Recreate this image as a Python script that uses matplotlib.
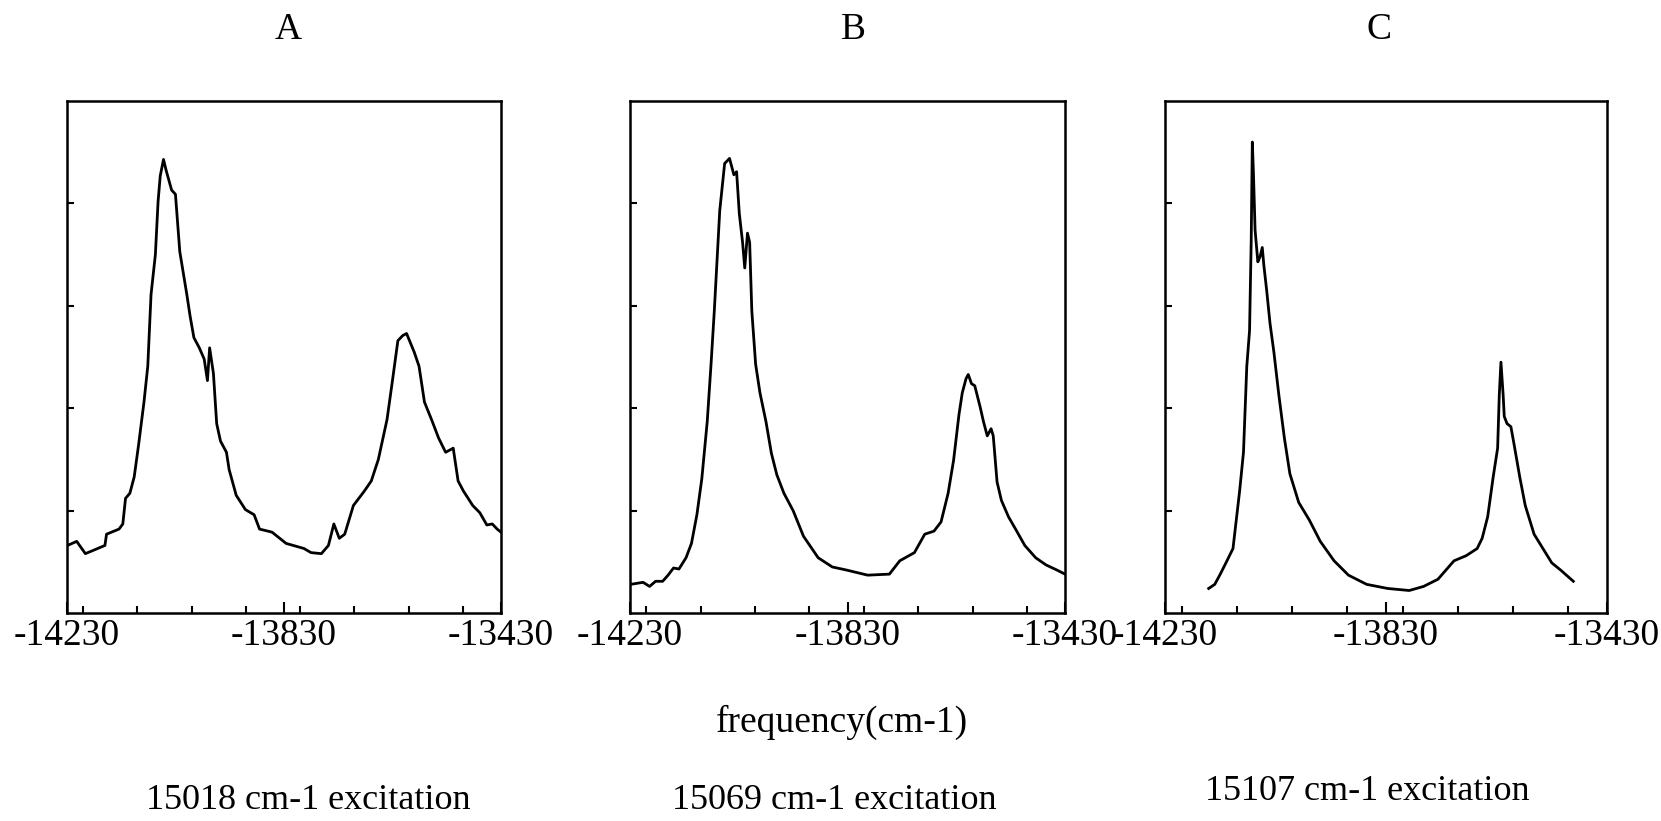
import matplotlib.pyplot as plt
from matplotlib.ticker import MultipleLocator

plt.rcParams['font.family'] = ['Liberation Serif', 'DejaVu Serif']

# spectrum A: 15018 cm-1 excitation
freq_a = [-14229, -14212, -14196, -14160, -14157, -14134, -14127, -14122, -14114, -14106,
          -14098, -14088, -14081, -14075, -14067, -14062, -14058, -14052, -14047, -14037,
          -14030, -14022, -14009, -14003, -13996, -13986, -13977, -13971, -13967, -13960,
          -13954, -13947, -13936, -13931, -13918, -13901, -13885, -13875, -13852, -13826,
          -13793, -13780, -13761, -13748, -13738, -13728, -13718, -13702, -13682, -13669,
          -13656, -13640, -13630, -13620, -13611, -13604, -13590, -13581, -13571, -13558,
          -13545, -13532, -13518, -13509, -13499, -13482, -13469, -13456, -13446, -13437,
          -13430]
int_a = [0.66, 0.70, 0.58, 0.66, 0.77, 0.82, 0.87, 1.12, 1.17, 1.33,
         1.64, 2.06, 2.41, 3.11, 3.50, 4.02, 4.27, 4.43, 4.32, 4.13,
         4.09, 3.53, 3.11, 2.90, 2.69, 2.59, 2.48, 2.27, 2.59, 2.34,
         1.85, 1.68, 1.57, 1.40, 1.15, 1.01, 0.96, 0.82, 0.79, 0.68,
         0.63, 0.59, 0.58, 0.66, 0.87, 0.73, 0.77, 1.05, 1.19, 1.29,
         1.50, 1.89, 2.27, 2.66, 2.71, 2.73, 2.55, 2.41, 2.06, 1.89,
         1.71, 1.57, 1.61, 1.29, 1.19, 1.05, 0.98, 0.86, 0.87, 0.82,
         0.79]

# spectrum B: 15069 cm-1 excitation
freq_b = [-14229, -14206, -14194, -14183, -14170, -14160, -14150, -14140, -14127, -14117,
          -14107, -14098, -14088, -14081, -14075, -14065, -14056, -14047, -14039, -14034,
          -14029, -14023, -14019, -14014, -14010, -14006, -13999, -13991, -13980, -13970,
          -13960, -13947, -13930, -13911, -13884, -13858, -13832, -13793, -13753, -13734,
          -13707, -13688, -13671, -13658, -13645, -13635, -13625, -13619, -13612, -13608,
          -13602, -13596, -13586, -13580, -13573, -13566, -13562, -13555, -13547, -13534,
          -13521, -13504, -13484, -13465, -13445, -13430]
int_b = [0.28, 0.30, 0.26, 0.31, 0.31, 0.37, 0.44, 0.43, 0.54, 0.68,
         0.96, 1.31, 1.87, 2.43, 2.95, 3.93, 4.39, 4.44, 4.28, 4.31,
         3.90, 3.62, 3.37, 3.71, 3.62, 2.95, 2.43, 2.15, 1.87, 1.56,
         1.35, 1.17, 1.00, 0.75, 0.54, 0.45, 0.42, 0.37, 0.38, 0.51,
         0.59, 0.77, 0.80, 0.89, 1.17, 1.49, 1.94, 2.15, 2.29, 2.33,
         2.24, 2.22, 2.01, 1.87, 1.73, 1.80, 1.73, 1.28, 1.10, 0.94,
         0.82, 0.66, 0.54, 0.47, 0.42, 0.38]

# spectrum C: 15107 cm-1 excitation
freq_c = [-14151, -14140, -14130, -14117, -14107, -14101, -14095, -14088, -14082, -14077,
          -14074, -14072, -14070, -14067, -14062, -14058, -14054, -14051, -14046, -14040,
          -14033, -14024, -14014, -14004, -13988, -13969, -13949, -13924, -13898, -13865,
          -13827, -13788, -13762, -13736, -13707, -13685, -13665, -13656, -13646, -13636,
          -13628, -13625, -13622, -13618, -13616, -13611, -13604, -13598, -13588, -13578,
          -13562, -13546, -13530, -13514, -13491]
int_c = [0.24, 0.28, 0.38, 0.52, 0.63, 0.91, 1.19, 1.57, 2.41, 2.76,
         3.64, 4.60, 4.30, 3.74, 3.43, 3.48, 3.57, 3.39, 3.15, 2.83,
         2.55, 2.13, 1.71, 1.36, 1.08, 0.91, 0.70, 0.51, 0.37, 0.28,
         0.24, 0.22, 0.26, 0.33, 0.51, 0.56, 0.63, 0.73, 0.94, 1.33,
         1.61, 2.13, 2.45, 2.13, 1.92, 1.85, 1.82, 1.64, 1.33, 1.05,
         0.77, 0.63, 0.49, 0.42, 0.31]

panel_letters = ["A", "B", "C"]
excitations = ["15018 cm-1 excitation", "15069 cm-1 excitation", "15107 cm-1 excitation"]
x_ticks = [-14230, -13830, -13430]

fig = plt.figure(figsize=(16.61, 8.21), dpi=100)

# axes boxes in figure fractions
boxes = [
    [0.0403, 0.2533, 0.2613, 0.6236],
    [0.3793, 0.2533, 0.2619, 0.6236],
    [0.7014, 0.2533, 0.2661, 0.6236],
]
spectra = [(freq_a, int_a), (freq_b, int_b), (freq_c, int_c)]

for box, (fr, it) in zip(boxes, spectra):
    ax = fig.add_axes(box)
    ax.plot(fr, it, color="black", linewidth=2.0, solid_joinstyle="round")
    ax.set_xlim(-14230, -13430)
    ax.set_ylim(0, 5)
    ax.set_xticks(x_ticks)
    ax.set_xticklabels([str(t) for t in x_ticks])
    ax.xaxis.set_minor_locator(MultipleLocator(100))
    ax.set_yticks([1, 2, 3, 4])
    ax.set_yticklabels([])
    ax.tick_params(axis="x", which="major", direction="in", length=8, width=1.5,
                   labelsize=27, pad=4, top=False)
    ax.tick_params(axis="x", which="minor", direction="in", length=5, width=1.5, top=False)
    ax.tick_params(axis="y", direction="in", length=5, width=1.5, right=False)
    for s in ax.spines.values():
        s.set_linewidth(1.8)

# panel letters and captions
letter_x = [288, 853, 1379]
caption_x = [308, 834, 1367]
caption_y = [800, 800, 791]
for lab, lx in zip(panel_letters, letter_x):
    fig.text(lx / 1661, 1 - 30 / 821, lab, ha="center", va="center", fontsize=27)
for cap, cx, cy in zip(excitations, caption_x, caption_y):
    fig.text(cx / 1661, 1 - cy / 821, cap, ha="center", va="center", fontsize=26)

fig.text(842 / 1661, 1 - 722 / 821, "frequency(cm-1)", ha="center", va="center", fontsize=27)

fig.savefig("out.png", dpi=100, facecolor="white")
